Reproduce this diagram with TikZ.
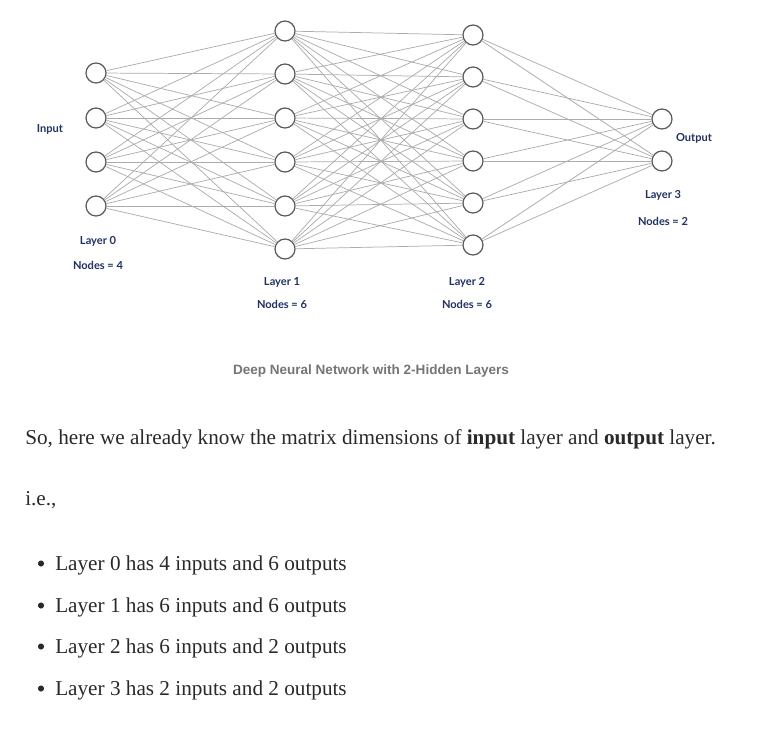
\documentclass[tikz,border=0pt]{standalone}
\usepackage{xcolor}
\usepackage{fontspec}
\setmainfont{Liberation Serif}
\newfontfamily\labelfont{Lato}
\newfontfamily\capfont{Liberation Sans}
\usepackage{tikz}

\definecolor{navy}{RGB}{33,50,98}
\definecolor{wire}{RGB}{172,172,172}
\definecolor{ring}{RGB}{90,90,90}
\definecolor{capgray}{RGB}{117,117,117}
\definecolor{ink}{RGB}{41,41,41}

\tikzset{
  neuron/.style={circle, draw=ring, fill=white, line width=0.9pt, minimum size=15pt, inner sep=0pt},
  link/.style={draw=wire, line width=0.55pt},
  lbl/.style={font=\labelfont\bfseries\fontsize{8.3}{10}\selectfont, text=navy, inner sep=0pt},
  body/.style={font=\fontsize{15.9}{19}\selectfont, text=ink, inner sep=0pt, anchor=base west},
  bulletdot/.style={circle, fill=ink, minimum size=4.6pt, inner sep=0pt}
}

\begin{document}
\begin{tikzpicture}[x=0.75pt, y=-0.75pt]
\useasboundingbox (0,0) rectangle (761,729);

\node[lbl]         (in)  at (50,129)	 {Input};
\node[lbl]         (out) at (694,138)	 {Output};

\node[lbl]         (L0) at (98,241)	 {Layer 0};
\node[lbl]         (N0) at (98,265)	 {Nodes = 4};
\node[lbl]         (L1) at (282,282)	 {Layer 1};
\node[lbl]         (N1) at (282,304)	 {Nodes = 6};
\node[lbl]         (L2) at (467,282)	 {Layer 2};
\node[lbl]         (N2) at (467,304)	 {Nodes = 6};
\node[lbl]         (L3) at (663,195)	 {Layer 3};
\node[lbl]         (N3) at (663,221)	 {Nodes = 2};

% layer 0
\foreach \y [count=\i] in {73,118,162,206}
  \node[neuron] (a\i) at (96,\y) {};
% layer 1
\foreach \y [count=\i] in {31,74,118,162,206,249}
  \node[neuron] (b\i) at (285,\y) {};
% layer 2
\foreach \y [count=\i] in {35,77,119,161,203,245}
  \node[neuron] (c\i) at (473,\y) {};
% layer 3
\foreach \y [count=\i] in {119,161}
  \node[neuron] (d\i) at (662,\y) {};

% every node to every node of the next layer
\foreach \i in {1,...,4} \foreach \j in {1,...,6}
  \path[link] (a\i) -- (b\j);
\foreach \i in {1,...,6} \foreach \j in {1,...,6}
  \path[link] (b\i) -- (c\j);
\foreach \i in {1,...,6} \foreach \j in {1,2}
  \path[link] (c\i) -- (d\j);

\node[font=\capfont\bfseries\fontsize{10.15}{12}\selectfont, text=capgray, inner sep=0pt] (cap) at (371,371) {Deep Neural Network with 2-Hidden Layers};

\node[body] (t1) at (25,444) {So, here we already know the matrix dimensions of \textbf{input} layer and \textbf{output} layer.};
\node[body] (t2) at (25,505) {i.e.,};
\foreach \y/\n [count=\k] in {570/0 has 4 inputs and 6 outputs,612/1 has 6 inputs and 6 outputs,653/2 has 6 inputs and 2 outputs,695/3 has 2 inputs and 2 outputs} {
  \node[bulletdot] (dot\k) at (41,\y-6.5) {};
  \node[body] (item\k) at (55,\y) {Layer \n};
}
\end{tikzpicture}
\end{document}
